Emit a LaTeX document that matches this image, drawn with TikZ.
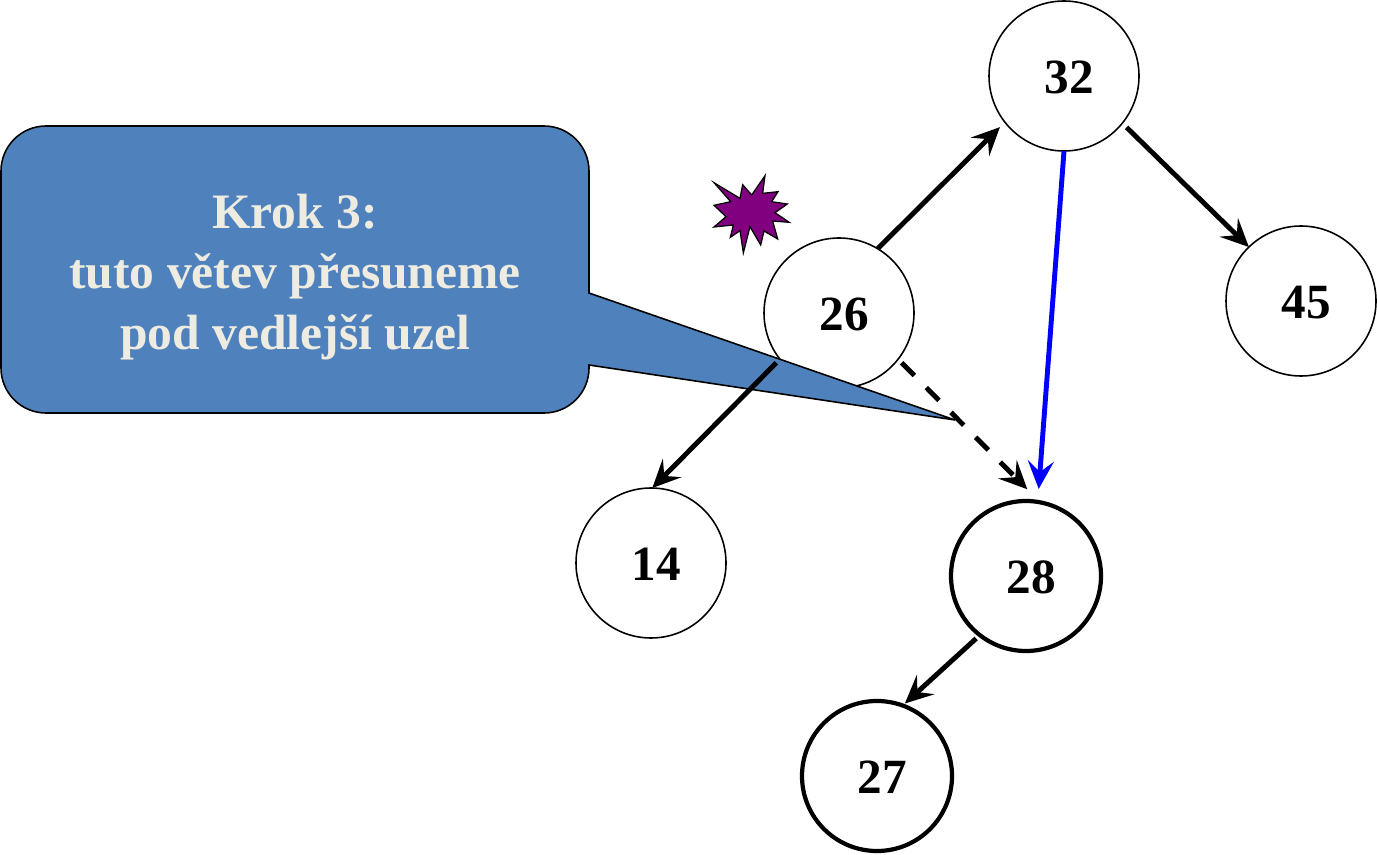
\documentclass[tikz,border=0pt]{standalone}
\usepackage{fontspec}
\setmainfont{Liberation Serif}
\usetikzlibrary{arrows.meta}
\definecolor{calloutblue}{HTML}{4F81BD}
\definecolor{callouttext}{HTML}{EEECE1}
\definecolor{starpurple}{HTML}{800080}
\tikzset{
  treenode/.style={draw, circle, line width=0.9pt, minimum size=3cm, inner sep=0pt, outer sep=0pt, text height=0.7cm, font=\fontsize{28}{33}\selectfont\bfseries, execute at begin node=\hspace*{0.2cm}},
  movednode/.style={treenode, line width=2.4pt},
  treeedge/.style={-{Stealth[length=0.56cm,width=0.52cm,inset=0.22cm]}, line width=2.8pt},
}
\begin{document}
\begin{tikzpicture}
    \useasboundingbox (0,0) rectangle (27.54,17.08);

    % Create the tree nodes
    \node[treenode] (n32) at (21.28,15.56) {32};
    \node[treenode] (n26) at (16.78,10.82) {26};
    \node[treenode] (n45) at (26.02,11.06) {45};
    \node[treenode] (n14) at (13.02,5.82) {14};
    \node[movednode] (n28) at (20.52,5.56) {28};
    \node[movednode] (n27) at (17.54,1.56) {27};

    % Burst beside the node
    \begin{scope}[shift={(13.8,13.88)}, x=0.006667cm, y=-0.006667cm]
        \draw[fill=starpurple, line width=0.7pt] (225,47) -- (218,100) -- (264,95) -- (245,125) -- (292,132) -- (255,158) -- (298,187) -- (248,183) -- (263,237) -- (222,213) -- (212,255) -- (180,200) -- (160,279) -- (150,212) -- (121,232) -- (130,195) -- (72,201) -- (108,170) -- (72,136) -- (122,125) -- (72,68) -- (150,115) -- (158,74) -- (185,105) -- cycle;
    \end{scope}

    % Callout with its pointer
    \draw[fill=calloutblue, line width=0.9pt] (0.92,14.56) -- (10.88,14.56) arc[start angle=90, end angle=0, radius=0.9] -- (11.78,11.22) -- (19.1,8.68) -- (11.78,9.78) -- (11.78,9.72) arc[start angle=0, end angle=-90, radius=0.9] -- (0.92,8.82) arc[start angle=-90, end angle=-180, radius=0.9] -- (0.02,13.66) arc[start angle=180, end angle=90, radius=0.9] -- cycle;
    \node[text=callouttext, align=center, font=\fontsize{28.2}{34.2}\selectfont\bfseries] (krok) at (5.9,11.54) {Krok 3:\\tuto větev přesuneme\\pod vedlejší uzel};

    % Connect nodes
    \draw[treeedge, shorten >=0.14cm] (n26.59) -- (n32.218);
    \draw[treeedge, shorten <=0.12cm] (n32.-39) -- (n45.134);
    \draw[treeedge, blue, shorten >=0.26cm] (n32.-90) -- (n28.81);
    \draw[treeedge, shorten <=0.1cm] (n26.218) -- (n14.89);
    \draw[treeedge, dash pattern=on 0.36cm off 0.34cm, shorten <=0.1cm, shorten >=0.37cm] (n26.-38) -- (n28.79);
    \draw[treeedge, shorten <=0.1cm, shorten >=0.06cm] (n28.232) -- (n27.70);
\end{tikzpicture}
\end{document}
